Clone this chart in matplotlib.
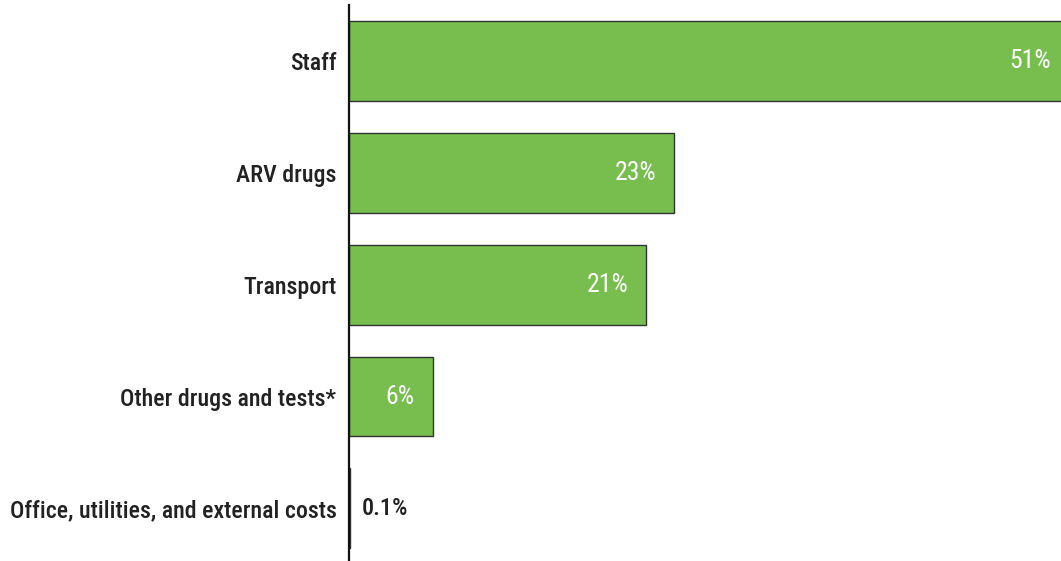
import matplotlib
matplotlib.use("Agg")
import matplotlib.pyplot as plt

# Cost categories and their share (%)
categories = ["Staff", "ARV drugs", "Transport", "Other drugs and tests*",
              "Office, utilities, and external costs"]
values = [51.6, 23.3, 21.3, 6.0, 0.1]
value_labels = ["51%", "23%", "21%", "6%", "0.1%"]

BAR_COLOR = "#77BE4F"
EDGE_COLOR = "#333333"
FONT = ["Roboto Condensed", "DejaVu Sans"]

fig = plt.figure(figsize=(10.61, 5.61), dpi=100)
ax = fig.add_axes([349 / 1061, 0, 712 / 1061, 556 / 561])

y = list(range(len(categories)))
ax.barh(y, values, height=0.714, color=BAR_COLOR, edgecolor=EDGE_COLOR, linewidth=1.0)

ax.set_xlim(0, 51.05)
ax.set_ylim(4.47, -0.5)

# value labels: white inside the bar, dark next to the axis for tiny bars
for i, (v, lab) in enumerate(zip(values, value_labels)):
    if v > 3:
        ax.annotate(lab, xy=(v, i), xytext=(-18, 0), textcoords="offset pixels",
                    ha="right", va="center", color="white", fontsize=18.5,
                    family=FONT, annotation_clip=False)
    else:
        ax.annotate(lab, xy=(0, i), xytext=(13, 0), textcoords="offset pixels",
                    ha="left", va="center", color="#222222", fontsize=17.5,
                    family=FONT, weight="medium", annotation_clip=False)

ax.set_yticks(y)
ax.set_yticklabels(categories, family=FONT, weight="medium", fontsize=17.2, color="#222222")
ax.tick_params(axis="y", length=0, pad=9)
ax.set_xticks([])

for s in ["top", "right", "bottom"]:
    ax.spines[s].set_visible(False)
ax.spines["left"].set_linewidth(1.6)
ax.spines["left"].set_color("#111111")

fig.savefig("out.png", dpi=100, facecolor="white")
